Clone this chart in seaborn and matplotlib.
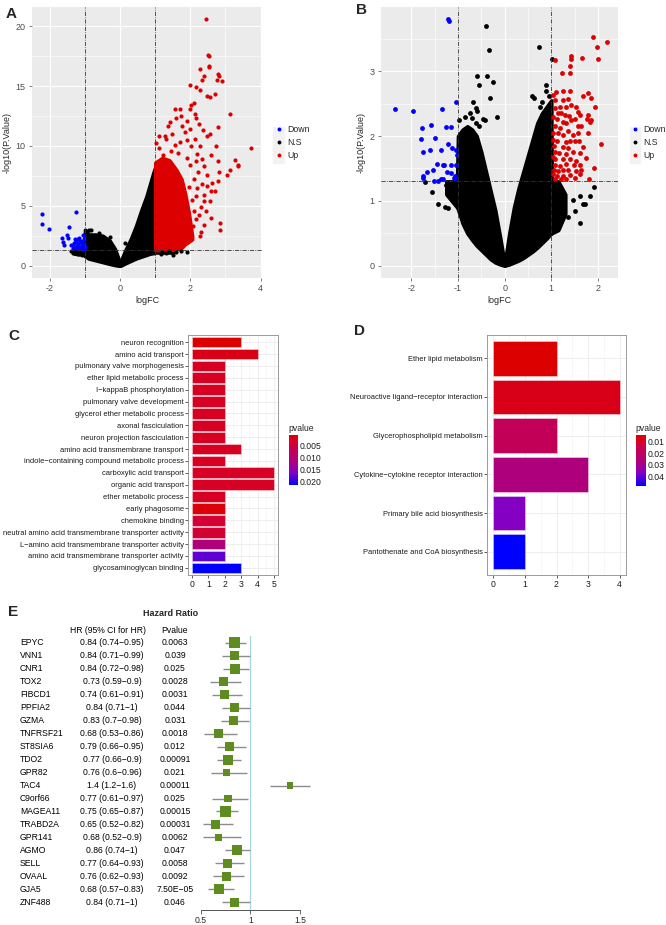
import numpy as np
import pandas as pd
import matplotlib
matplotlib.use('Agg')
import matplotlib.pyplot as plt
import matplotlib.colors as mcolors
import seaborn as sns

# ---------------- data ----------------
# Panel A volcano: scattered points
a_up_x = [2.45, 2.49, 2.52, 2.52, 2.52, 2.27, 2.40, 2.80, 2.82, 2.75, 2.91, 2.34, 1.99, 2.15, 2.27,
          2.69, 2.46, 2.57, 3.12, 1.55, 2.80, 2.55, 2.72, 3.74, 3.27, 3.36, 3.36, 3.12, 3.03, 2.81,
          2.58, 2.80, 2.79, 2.63, 2.70, 2.58, 2.83, 2.84, 2.39, 2.31, 2.27, 2.31, 2.17, 1.89, 1.77,
          1.29, 1.03, 1.10, 1.31, 1.48, 1.55, 1.74, 1.77, 1.85, 1.98, 2.03, 2.10, 2.13, 2.17, 2.24,
          1.89, 2.03, 2.12, 2.27, 2.36, 2.46, 2.32, 2.15, 2.38, 2.22, 2.46, 2.34, 2.48, 2.17, 2.38,
          2.55, 2.44, 2.25, 2.08, 1.98, 1.70, 1.60, 1.36, 1.46, 1.22, 1.65, 1.90, 2.00, 2.10, 1.95,
          2.05, 2.20, 1.12, 1.42, 1.90, 2.00, 1.70, 2.20, 2.10, 1.95, 2.40, 2.60]
a_up_y = [20.6, 17.6, 17.5, 16.7, 16.6, 16.4, 15.8, 16.0, 15.8, 15.5, 15.4, 15.5, 15.05, 14.9, 14.7,
          14.3, 14.2, 14.1, 12.7, 13.1, 11.6, 11.0, 10.0, 9.8, 8.8, 8.4, 8.3, 8.0, 7.6, 7.8,
          9.2, 8.7, 7.1, 6.9, 6.2, 6.2, 3.6, 3.0, 5.4, 4.9, 2.5, 2.8, 3.9, 1.95, 1.8,
          10.83, 10.22, 9.86, 10.56, 10.97, 10.06, 12.5, 11.67, 11.17, 13.06, 13.39, 13.61, 12.64, 12.36, 11.81,
          10.47, 10.0, 10.61, 10.0, 11.33, 10.83, 8.89, 8.75, 8.33, 7.78, 7.56, 6.81, 6.67, 5.83, 5.94,
          5.42, 4.58, 4.22, 3.33, 2.78, 13.06, 12.36, 11.67, 9.58, 9.22, 9.4, 9.0, 8.4, 7.2, 6.6,
          5.5, 6.5, 10.8, 12.0, 12.1, 11.4, 10.3, 9.3, 4.6, 3.8, 3.4, 4.0]
a_down_x = [-2.23, -2.23, -2.02, -1.25, -1.46, -1.66, -1.64, -1.61, -1.50, -1.48, -1.40, -1.28, -1.21,
            -1.16, -1.07, -1.30, -1.25, -1.20, -1.15, -1.10, -1.05, -1.02, -1.35, -1.18, -1.08, -1.12,
            -1.30, -1.25, -1.03, -1.00, -1.22, -1.15, -1.08, -1.33, -1.27, -1.04]
a_down_y = [4.3, 3.47, 3.1, 4.44, 3.25, 2.33, 2.0, 1.72, 2.6, 2.33, 1.72, 2.2, 2.2,
            2.3, 2.55, 1.6, 1.5, 1.8, 1.6, 1.9, 1.5, 1.8, 1.45, 1.4, 1.35, 2.05,
            1.9, 2.0, 2.2, 1.6, 1.65, 1.95, 1.7, 1.75, 2.1, 1.4]
a_ns_x = [-0.83, -0.90, -0.95, 1.50, 1.74, 1.89, 1.30, 1.15, 1.60, -1.35, -1.20, -1.40, -1.10,
          1.40, 1.20, -0.60, -0.30, 0.15, -0.40]
a_ns_y = [3.0, 2.95, 2.9, 0.9, 1.25, 1.1, 1.05, 1.0, 1.15, 1.03, 0.95, 1.2, 0.85,
          1.2, 1.15, 2.7, 2.4, 1.9, 0.3]
# dense (solid) parts of panel A clouds: x, lower and upper -log10(p)
a_nsl_x = [-1.30, -1.02, -1.00, -0.90, -0.70, -0.50, -0.30, -0.15, -0.05, 0.00]
a_nsl_lo = [1.0, 0.9, 0.8, 0.6, 0.45, 0.3, 0.15, 0.05, 0.0, 0.0]
a_nsl_hi = [1.3, 1.3, 3.0, 2.6, 2.6, 2.5, 2.1, 1.4, 0.6, 0.1]
a_nsr_x = [0.00, 0.05, 0.15, 0.30, 0.45, 0.60, 0.75, 0.85, 0.95, 1.00, 1.01, 1.30, 1.50]
a_nsr_lo = [0.0, 0.05, 0.2, 0.4, 0.6, 0.75, 0.9, 1.0, 1.05, 1.1, 1.1, 1.1, 1.1]
a_nsr_hi = [0.1, 0.6, 1.3, 2.2, 3.3, 4.6, 5.8, 6.8, 7.8, 8.2, 1.3, 1.25, 1.15]
a_upd_x = [1.00, 1.20, 1.40, 1.60, 1.75, 1.85, 1.95, 2.05]
a_upd_lo = [1.3, 1.3, 1.3, 1.35, 1.5, 1.8, 2.0, 2.2]
a_upd_hi = [8.6, 9.0, 8.8, 8.0, 7.2, 6.0, 4.5, 2.5]

# Panel B volcano
b_up_x = [1.89, 2.19, 1.99, 2.00, 1.66, 1.43, 1.43, 1.07, 1.41, 1.22, 1.41, 1.11, 1.25, 1.41, 1.79,
          1.68, 1.04, 1.86, 1.07, 1.25, 1.36, 1.94, 1.09, 1.18, 1.32, 1.43, 1.52, 1.14, 1.21, 1.29,
          1.57, 1.61, 1.79, 1.04, 1.12, 1.39, 1.50, 1.77, 1.86, 1.25, 1.32, 1.43, 1.07, 1.18, 1.57,
          1.64, 1.82, 1.04, 1.14, 1.25, 1.36, 1.46, 1.57, 1.79, 1.59, 2.07, 1.04, 1.12, 1.32, 1.41,
          1.51, 1.05, 1.25, 1.36, 1.68, 1.07, 1.16, 1.32, 1.46, 1.62, 1.04, 1.09, 1.25, 1.41, 1.54,
          1.75, 1.07, 1.18, 1.32, 1.48, 1.61, 1.05, 1.14, 1.25, 1.36, 1.54, 1.64, 1.91, 1.04, 1.12,
          1.25, 1.41, 1.61, 1.07, 1.21, 1.32, 1.50, 1.81]
b_up_y = [3.52, 3.45, 3.38, 3.19, 3.21, 3.23, 3.19, 3.17, 3.08, 2.97, 2.97, 2.68, 2.70, 2.69, 2.66,
          2.62, 2.63, 2.58, 2.56, 2.56, 2.57, 2.44, 2.43, 2.45, 2.45, 2.48, 2.45, 2.35, 2.36, 2.32,
          2.37, 2.32, 2.32, 2.30, 2.27, 2.31, 2.27, 2.26, 2.24, 2.22, 2.20, 2.24, 2.15, 2.12, 2.15,
          2.16, 2.21, 2.04, 2.05, 2.02, 2.07, 2.02, 2.05, 2.04, 1.92, 1.88, 1.94, 1.92, 1.90, 1.93,
          1.92, 1.84, 1.83, 1.81, 1.83, 1.75, 1.74, 1.73, 1.75, 1.74, 1.68, 1.64, 1.65, 1.64, 1.62,
          1.66, 1.56, 1.54, 1.57, 1.56, 1.55, 1.48, 1.46, 1.47, 1.48, 1.46, 1.47, 1.51, 1.41, 1.39,
          1.38, 1.40, 1.41, 1.34, 1.34, 1.33, 1.35, 1.33]
b_down_x = [-2.36, -1.96, -1.21, -1.20, -1.34, -1.05, -1.78, -1.57, -1.26, -1.16, -1.79, -1.49, -1.75,
            -1.59, -1.36, -1.21, -1.12, -1.04, -1.02, -1.44, -1.32, -1.30, -1.14, -1.04, -1.66, -1.54,
            -1.76, -1.76, -1.24, -1.14, -1.09, -1.06, -1.51, -1.43, -1.36, -1.32, -1.07]
b_down_y = [2.41, 2.38, 3.80, 3.77, 2.42, 2.53, 2.13, 2.17, 2.14, 2.14, 1.95, 1.97, 1.76,
            1.78, 1.79, 1.88, 1.82, 1.78, 1.70, 1.57, 1.55, 1.55, 1.55, 1.56, 1.44, 1.47,
            1.38, 1.35, 1.44, 1.43, 1.36, 1.39, 1.31, 1.31, 1.33, 1.34, 1.35]
b_ns_x = [-0.41, -0.34, -0.59, -0.38, -0.55, -0.26, -0.32, -0.68, -0.62, -0.59, -0.98, -0.46, -0.43,
          -0.16, -0.62, -0.54, 0.74, 1.01, 0.88, 0.59, 0.64, 0.89, 0.75, 1.61, 1.68, 1.82, 1.91,
          1.46, 1.62, 1.73, -1.71, -1.55, -1.43, -1.27, -1.21, -1.14, -1.11, -1.04, -1.25, -0.85,
          -0.75, -0.70, 0.95, 0.80, 1.50, 1.35]
b_ns_y = [3.70, 3.32, 2.92, 2.93, 2.78, 2.84, 2.59, 2.53, 2.43, 2.38, 2.24, 2.26, 2.24,
          2.30, 2.20, 2.16, 3.37, 3.19, 2.78, 2.62, 2.59, 2.70, 2.45, 0.66, 0.95, 1.07, 1.21,
          1.02, 1.08, 0.95, 1.29, 1.14, 0.95, 0.91, 0.89, 1.07, 1.20, 1.02, 1.25, 2.30,
          2.35, 2.28, 2.62, 2.52, 0.85, 0.75]
b_nsl_x = [-1.25, -1.02, -1.00, -0.90, -0.80, -0.70, -0.60, -0.50, -0.40, -0.30, -0.20, -0.10, 0.00]
b_nsl_lo = [1.1, 0.9, 0.87, 0.65, 0.5, 0.4, 0.31, 0.24, 0.17, 0.1, 0.05, 0.02, 0.0]
b_nsl_hi = [1.3, 1.3, 2.0, 2.1, 2.15, 2.1, 2.0, 1.75, 1.45, 1.15, 0.85, 0.45, 0.03]
b_nsr_x = [0.00, 0.10, 0.20, 0.30, 0.40, 0.50, 0.60, 0.70, 0.80, 0.90, 1.00, 1.01, 1.15, 1.30]
b_nsr_lo = [0.0, 0.02, 0.05, 0.08, 0.12, 0.17, 0.22, 0.28, 0.35, 0.42, 0.5, 0.5, 0.55, 0.8]
b_nsr_hi = [0.03, 0.5, 0.9, 1.2, 1.45, 1.7, 1.95, 2.2, 2.35, 2.45, 2.55, 1.3, 1.3, 1.1]

# Panel C GO enrichment
go_terms = ['neuron recognition', 'amino acid transport', 'pulmonary valve morphogenesis',
            'ether lipid metabolic process', 'I\u2212kappaB phosphorylation', 'pulmonary valve development',
            'glycerol ether metabolic process', 'axonal fasciculation', 'neuron projection fasciculation',
            'amino acid transmembrane transport', 'indole\u2212containing compound metabolic process',
            'carboxylic acid transport', 'organic acid transport', 'ether metabolic process',
            'early phagosome', 'chemokine binding', 'neutral amino acid transmembrane transporter activity',
            'L\u2212amino acid transmembrane transporter activity', 'amino acid transmembrane transporter activity',
            'glycosaminoglycan binding']
go_count = [3, 4, 2, 2, 2, 2, 2, 2, 2, 3, 2, 5, 5, 2, 2, 2, 2, 2, 2, 3]
go_pvalue = [0.00055, 0.0018, 0.0026, 0.0026, 0.0026, 0.0026, 0.0026, 0.0026, 0.0026, 0.0026,
             0.0026, 0.0028, 0.0028, 0.0027, 0.0012, 0.0038, 0.0038, 0.0112, 0.0175, 0.0214]
go_ticks = [0.005, 0.010, 0.015, 0.020]

# Panel D KEGG enrichment
kegg_terms = ['Ether lipid metabolism', 'Neuroactive ligand\u2212receptor interaction',
              'Glycerophospholipid metabolism', 'Cytokine\u2212cytokine receptor interaction',
              'Primary bile acid biosynthesis', 'Pantothenate and CoA biosynthesis']
kegg_count = [2, 4, 2, 3, 1, 1]
kegg_pvalue = [0.0043, 0.0075, 0.017, 0.027, 0.037, 0.048]
kegg_ticks = [0.01, 0.02, 0.03, 0.04]

# Panel E forest plot
genes = ['EPYC', 'VNN1', 'CNR1', 'TOX2', 'FIBCD1', 'PPFIA2', 'GZMA', 'TNFRSF21', 'ST8SIA6', 'TDO2',
         'GPR82', 'TAC4', 'C9orf66', 'MAGEA11', 'TRABD2A', 'GPR141', 'AGMO', 'SELL', 'OVAAL', 'GJA5',
         'ZNF488']
hr = [0.84, 0.84, 0.84, 0.73, 0.74, 0.84, 0.83, 0.68, 0.79, 0.77, 0.76, 1.4, 0.77, 0.75, 0.65,
      0.68, 0.86, 0.77, 0.76, 0.68, 0.84]
hr_low = [0.74, 0.71, 0.72, 0.59, 0.61, 0.71, 0.7, 0.53, 0.66, 0.66, 0.6, 1.2, 0.61, 0.65, 0.52,
          0.52, 0.74, 0.64, 0.62, 0.57, 0.71]
hr_high = [0.95, 0.99, 0.98, 0.9, 0.91, 1, 0.98, 0.86, 0.95, 0.9, 0.96, 1.6, 0.97, 0.87, 0.82,
           0.9, 1, 0.93, 0.93, 0.83, 1]
hr_pvalue = ['0.0063', '0.039', '0.025', '0.0028', '0.0031', '0.044', '0.031', '0.0018', '0.012',
             '0.00091', '0.021', '0.00011', '0.025', '0.00015', '0.00031', '0.0062', '0.047', '0.0058',
             '0.0092', '7.50E\u221205', '0.046']
hr_weight = [10.7, 9.3, 10, 9, 8.7, 9.3, 9, 8.7, 9, 10, 7.3, 6.7, 7.7, 11, 9, 7.3, 10, 9, 9, 10, 9.3]

# ---------------- style ----------------
sns.set_theme(style='white')
plt.rcParams['font.family'] = ['Liberation Sans', 'DejaVu Sans']
plt.rcParams['axes.unicode_minus'] = False
W, H = 666, 925


def rect(x0, y0, x1, y1):
    # pixel box (top-left origin) -> figure fraction
    return [x0 / W, 1 - y1 / H, (x1 - x0) / W, (y1 - y0) / H]


pv_cmap = mcolors.LinearSegmentedColormap.from_list(
    'pv', [(0, '#DC0000'), (0.12, '#D6002A'), (0.3, '#C2005A'), (0.52, '#AE007C'),
           (0.75, '#8400C2'), (1, '#0000FF')])
RED, BLUE = '#DD0000', '#0000FF'
GREY30 = '#4D4D4D'


def graph_volcano(ax, bands, up, down, ns, xlim, ylim, xmaj, xmin, ymaj, ymin, s):
    ax.set_facecolor('#EBEBEB')
    for sp in ax.spines.values():
        sp.set_visible(False)
    ax.set_xticks(xmaj)
    ax.set_xticks(xmin, minor=True)
    ax.set_yticks(ymaj)
    ax.set_yticks(ymin, minor=True)
    ax.grid(True, which='major', color='white', lw=0.8)
    ax.grid(True, which='minor', color='white', lw=0.4)
    ax.set_axisbelow(True)
    for (bx, lo, hi, c) in bands:
        ax.fill_between(bx, lo, hi, color=c, edgecolor=c, lw=2.6, zorder=2)
    sns.scatterplot(x=ns[0], y=ns[1], color='black', s=s, linewidth=0, ax=ax, zorder=3)
    sns.scatterplot(x=up[0], y=up[1], color=RED, s=s, linewidth=0, ax=ax, zorder=3)
    sns.scatterplot(x=down[0], y=down[1], color=BLUE, s=s, linewidth=0, ax=ax, zorder=3)
    dd = (0, (5, 1.5, 1, 1.5))
    for v in (-1, 1):
        ax.axvline(v, color='#333333', lw=0.6, ls=dd, zorder=4)
    ax.axhline(-np.log10(0.05), color='#333333', lw=0.6, ls=dd, zorder=4)
    ax.set_xlim(xlim)
    ax.set_ylim(ylim)
    ax.tick_params(axis='both', which='major', labelsize=6.5, colors=GREY30, length=2.5, width=0.5,
                   pad=2, bottom=True, left=True)
    ax.tick_params(axis='both', which='minor', length=0)
    ax.set_xlabel('logFC', fontsize=6.5, labelpad=2)
    ax.set_ylabel('-log10(P.Value)', fontsize=6.5, labelpad=3)
    handles = [plt.Line2D([], [], marker='o', ls='', color=c, markersize=2.8, markeredgewidth=0)
               for c in [BLUE, 'black', RED]]
    ax.legend(handles, ['Down', 'N.S', 'Up'], loc='center left', bbox_to_anchor=(1.055, 0.5),
              frameon=False, fontsize=6.3, handlelength=0.9, handletextpad=0.5, labelspacing=0.5,
              borderaxespad=0, borderpad=0)


def graph_enrich(ax, cax, terms, counts, pvals, xlim, xticks, cticks, cfmt):
    norm = mcolors.Normalize(vmin=min(pvals), vmax=max(pvals))
    pal = {t: pv_cmap(norm(p)) for t, p in zip(terms, pvals)}
    df = pd.DataFrame({'term': terms, 'count': counts})
    sns.barplot(data=df, x='count', y='term', hue='term', palette=pal, legend=False,
                orient='h', width=0.9, saturation=1, ax=ax, zorder=2,
                edgecolor=(1, 1, 1, 0.45), linewidth=0.6)
    ax.set_xlim(xlim)
    ax.set_ylim(len(terms) - 0.4, -0.6)
    ax.set_xticks(xticks)
    ax.set_xticks(np.arange(0.5, xticks[-1] + 0.5, 1), minor=True)
    ax.grid(True, which='major', color='#EBEBEB', lw=0.6)
    ax.grid(True, which='minor', axis='x', color='#F2F2F2', lw=0.4)
    ax.set_axisbelow(True)
    for sp in ax.spines.values():
        sp.set_color('#9A9A9A')
        sp.set_linewidth(0.7)
    ax.tick_params(axis='y', labelsize=5.4, colors='#1A1A1A', length=2, width=0.5, pad=1, left=True)
    ax.tick_params(axis='x', labelsize=6.2, colors='#1A1A1A', length=2, width=0.5, pad=1.5, bottom=True)
    ax.set_xlabel('')
    ax.set_ylabel('')
    # colour bar, low p-value (red) on top
    sm = plt.cm.ScalarMappable(norm=norm, cmap=pv_cmap)
    cb = plt.colorbar(sm, cax=cax)
    cb.outline.set_visible(False)
    cax.invert_yaxis()
    cb.set_ticks(cticks)
    cb.set_ticklabels([cfmt.format(t) for t in cticks])
    cax.tick_params(direction='in', color='white', length=2, width=0.6, labelsize=6.2,
                    labelcolor='#1A1A1A', pad=1.5, left=True, right=True)
    cax.set_title('pvalue', fontsize=6.2, loc='left', pad=3, x=-0.05)


fig = plt.figure(figsize=(W / 100, H / 100), dpi=100)

# grey legend-key backgrounds of the volcano legends (behind everything)
for x0, x1 in [(273, 284), (630, 640)]:
    fig.patches.append(plt.Rectangle((x0 / W, 1 - 163 / H), (x1 - x0) / W, 36 / H,
                                     transform=fig.transFigure, color='#F2F2F2', zorder=-5))

# A
axA = fig.add_axes(rect(32, 7, 262, 278))
graph_volcano(axA,
              [(a_nsl_x, a_nsl_lo, a_nsl_hi, 'black'), (a_nsr_x, a_nsr_lo, a_nsr_hi, 'black'),
               (a_upd_x, a_upd_lo, a_upd_hi, RED)],
              (a_up_x, a_up_y), (a_down_x, a_down_y), (a_ns_x, a_ns_y),
              (-2.51, 4.04), (-1.03, 21.6), [-2, 0, 2, 4], [-1, 1, 3],
              [0, 5, 10, 15, 20], [2.5, 7.5, 12.5, 17.5], 9)

# B
axB = fig.add_axes(rect(381, 7, 618, 278))
graph_volcano(axB,
              [(b_nsl_x, b_nsl_lo, b_nsl_hi, 'black'), (b_nsr_x, b_nsr_lo, b_nsr_hi, 'black')],
              (b_up_x, b_up_y), (b_down_x, b_down_y), (b_ns_x, b_ns_y),
              (-2.65, 2.43), (-0.19, 3.99), [-2, -1, 0, 1, 2], [-1.5, -0.5, 0.5, 1.5],
              [0, 1, 2, 3], [0.5, 1.5, 2.5, 3.5], 12)

# C
axC = fig.add_axes(rect(188, 335, 278, 575))
caxC = fig.add_axes(rect(289, 435, 298, 485))
graph_enrich(axC, caxC, go_terms, go_count, go_pvalue, (-0.25, 5.25), [0, 1, 2, 3, 4, 5],
             go_ticks, '{:.3f}')

# D
axD = fig.add_axes(rect(487, 335, 626, 575))
caxD = fig.add_axes(rect(636, 435, 646, 486))
graph_enrich(axD, caxD, kegg_terms, kegg_count, kegg_pvalue, (-0.2, 4.2), [0, 1, 2, 3, 4],
             kegg_ticks, '{:.2f}')

# E forest plot
rows = np.arange(len(genes))
ylimE = (20.59, -0.52)
axT = fig.add_axes(rect(0, 636, 190, 910))
axT.set_xlim(0, 190)
axT.set_ylim(ylimE)
axT.axis('off')
for i, g in enumerate(genes):
    axT.text(20, i, g, fontsize=6.2, ha='left', va='center', color='black')
    lbl = f'{hr[i]:g} ({hr_low[i]:g}\u2212{hr_high[i]:g})'
    axT.text(112, i, lbl, fontsize=6.2, ha='center', va='center', color='black')
    axT.text(175, i, hr_pvalue[i], fontsize=6.2, ha='center', va='center', color='black')
axT.text(108, -0.96, 'HR (95% CI for HR)', fontsize=6.2, ha='center', va='center', color='black')
axT.text(175, -0.96, 'Pvalue', fontsize=6.2, ha='center', va='center', color='black')
fig.text(171 / W, 1 - 614 / H, 'Hazard Ratio', fontsize=6.5, fontweight='bold', ha='center', va='center')

axE = fig.add_axes(rect(190, 636, 320, 910))
axE.set_xlim(0.389, 1.702)
axE.set_ylim(ylimE)
axE.set_facecolor('none')
axE.axvline(1, color='#A8D8DF', lw=0.9, zorder=1)
axE.hlines(rows, hr_low, hr_high, color='#8C8C8C', lw=1.0, zorder=2)
axE.scatter(hr, rows, marker='s', s=[(w * 0.72) ** 2 for w in hr_weight], color='#5E8C1F',
            linewidths=0, zorder=3)
for k in ['top', 'right', 'left']:
    axE.spines[k].set_visible(False)
axE.spines['bottom'].set_bounds(0.5, 1.5)
axE.spines['bottom'].set_color('#555555')
axE.spines['bottom'].set_linewidth(0.7)
axE.set_yticks([])
axE.set_xticks([0.5, 1, 1.5])
axE.set_xticklabels(['0.5', '1', '1.5'])
axE.tick_params(axis='x', labelsize=6.2, length=3, width=0.6, color='#555555', pad=1.5, bottom=True)

# panel letters
for txt, x, y in [('A', 6, 14), ('B', 356, 10), ('C', 8, 336), ('D', 354, 331), ('E', 8, 612)]:
    fig.text(x / W, 1 - y / H, txt, fontsize=11, fontweight='bold', ha='left', va='center')

plt.savefig('out.png', dpi=100)
plt.close()
